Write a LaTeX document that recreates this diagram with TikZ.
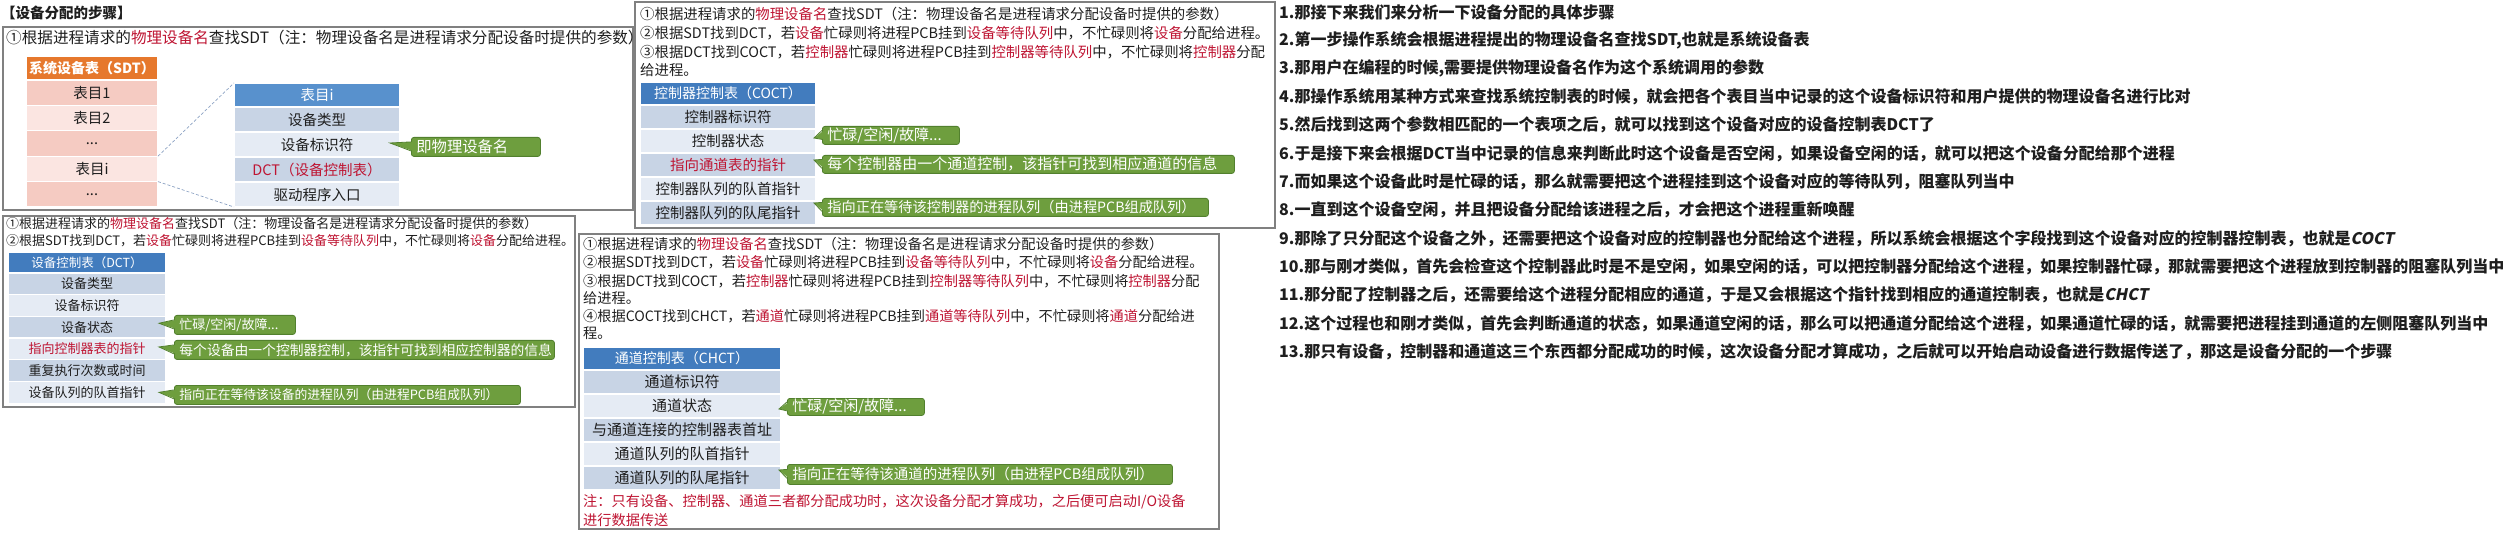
\documentclass[tikz,border=0pt]{standalone}
\usepackage{fontspec}
\setmainfont{Noto Sans CJK SC}
\newfontfamily\slantcjk{Noto Sans CJK SC}[FakeSlant=0.2]
\usepackage{tikz}
\usetikzlibrary{positioning}
\definecolor{framegray}{RGB}{128,128,128}
\definecolor{hdrorange}{RGB}{230,120,45}
\definecolor{rowpinkA}{RGB}{245,203,194}
\definecolor{rowpinkB}{RGB}{251,229,225}
\definecolor{hdrblue}{RGB}{66,124,190}
\definecolor{hdrblueL}{RGB}{88,145,205}
\definecolor{rowblueA}{RGB}{200,212,229}
\definecolor{rowblueB}{RGB}{229,235,244}
\definecolor{tipgreen}{RGB}{110,158,62}
\definecolor{tipedge}{RGB}{82,128,46}
\definecolor{keyred}{RGB}{190,20,50}
\definecolor{txtgray}{RGB}{30,30,30}
\definecolor{linkblue}{RGB}{140,162,195}
\newcommand{\pxsize}[1]{\fontsize{#1pt}{#1pt}\selectfont}
\newcommand{\kw}[1]{\textcolor{keyred}{#1}}
\newcommand{\tipto}[2]{%
  \fill[tipgreen] ([xshift=2pt,yshift=5pt]#1.west) -- (#2) -- ([xshift=2pt,yshift=-4pt]#1.west) -- cycle;
  \draw[tipedge,line width=0.8pt] ([yshift=5pt]#1.west) -- (#2) -- ([yshift=-4pt]#1.west);}

\begin{document}
\begin{tikzpicture}[x=1pt,y=-1pt,
  panel/.style={draw=framegray,line width=1.1pt},
  txt/.style={anchor=west,inner sep=0pt,text=txtgray},
  talk/.style={txt,font=\pxsize{16}\bfseries},
  cell/.style={inner sep=0pt,outer sep=0pt,draw=white,line width=1.2pt,text=txtgray},
  hdr/.style={cell,text=white,anchor=north west},
  pop/.style={anchor=north west,fill=tipgreen,draw=tipedge,line width=0.8pt,rounded corners=2.5pt,text=white,inner xsep=5pt,inner ysep=0pt,align=left},
  link/.style={linkblue,line width=0.7pt,densely dashed},
  sdtcell/.style={cell,minimum width=132,minimum height=25.4,font=\pxsize{14.5}},
  entcell/.style={cell,minimum width=166,minimum height=25,font=\pxsize{14.5}},
  dctcell/.style={cell,minimum width=158,minimum height=21.7,font=\pxsize{13}},
  coctcell/.style={cell,minimum width=176,minimum height=24,font=\pxsize{14.5}},
  chctcell/.style={cell,minimum width=198,minimum height=24,font=\pxsize{15}}]
\useasboundingbox (0,0) rectangle (2513,534);

\node[txt,font=\pxsize{14.5}\bfseries] (title) at (1,13) {【设备分配的步骤】};

% step 1: SDT
\draw[panel] (3,27) rectangle (633,210);
\node[txt,font=\pxsize{15.6}] (s1a) at (6,38) {①根据进程请求的\kw{物理设备名}查找SDT（注：物理设备名是进程请求分配设备时提供的参数）};
\node[hdr,fill=hdrorange,minimum width=132,minimum height=24,font=\pxsize{14}\bfseries] (sdt0) at (26,56) {系统设备表（SDT）};
\node[sdtcell,fill=rowpinkA,below=0pt of sdt0] (sdt1) {表目1};
\node[sdtcell,fill=rowpinkB,below=0pt of sdt1] (sdt2) {表目2};
\node[sdtcell,fill=rowpinkA,below=0pt of sdt2] (sdt3) {...};
\node[sdtcell,fill=rowpinkB,below=0pt of sdt3] (sdt4) {表目i};
\node[sdtcell,fill=rowpinkA,below=0pt of sdt4] (sdt5) {...};
\node[hdr,fill=hdrblueL,minimum width=166,minimum height=24,font=\pxsize{14.5}] (ent0) at (234,83) {表目i};
\node[entcell,fill=rowblueA,below=0pt of ent0] (ent1) {设备类型};
\node[entcell,fill=rowblueB,below=0pt of ent1] (ent2) {设备标识符};
\node[entcell,fill=rowblueA,below=0pt of ent2] (ent3) {\kw{DCT（设备控制表）}};
\node[entcell,fill=rowblueB,below=0pt of ent3] (ent4) {驱动程序入口};
\draw[link] (sdt4.north east) -- (ent0.north west);
\draw[link] (sdt4.south east) -- (ent4.south west);
\node[pop,font=\pxsize{15.3},minimum height=19,text width=119] (pop1) at (411,137) {即物理设备名};
\tipto{pop1}{[xshift=-10pt,yshift=1.5pt]ent2.east}

% step 2: DCT
\draw[panel] (3,216) rectangle (575,407);
\node[txt,font=\pxsize{13}] (s2a) at (6,224) {①根据进程请求的\kw{物理设备名}查找SDT（注：物理设备名是进程请求分配设备时提供的参数）};
\node[txt,font=\pxsize{13}] (s2b) at (6,241) {②根据SDT找到DCT，若\kw{设备}忙碌则将进程PCB挂到\kw{设备等待队列}中，不忙碌则将\kw{设备}分配给进程。};
\node[hdr,fill=hdrblue,minimum width=158,minimum height=21,font=\pxsize{12.5}] (dct0) at (8,252) {设备控制表（DCT）};
\node[dctcell,fill=rowblueA,below=0pt of dct0] (dct1) {设备类型};
\node[dctcell,fill=rowblueB,below=0pt of dct1] (dct2) {设备标识符};
\node[dctcell,fill=rowblueA,below=0pt of dct2] (dct3) {设备状态};
\node[dctcell,fill=rowblueB,below=0pt of dct3] (dct4) {\kw{指向控制器表的指针}};
\node[dctcell,fill=rowblueA,below=0pt of dct4] (dct5) {重复执行次数或时间};
\node[dctcell,fill=rowblueB,below=0pt of dct5] (dct6) {设备队列的队首指针};
\node[pop,font=\pxsize{13},minimum height=19,text width=111] (pop2a) at (174,315) {忙碌/空闲/故障...};
\node[pop,font=\pxsize{13.8},minimum height=19,text width=370] (pop2b) at (174,340) {每个设备由一个控制器控制，该指针可找到相应控制器的信息};
\node[pop,font=\pxsize{12.8},minimum height=19,text width=336] (pop2c) at (174,385) {指向正在等待该设备的进程队列（由进程PCB组成队列）};
\tipto{pop2a}{[xshift=-7pt,yshift=4pt]dct3.east}
\tipto{pop2b}{[xshift=-7pt,yshift=2pt]dct4.east}
\tipto{pop2c}{[xshift=-7pt]dct6.east}

% step 3: COCT
\draw[panel] (635,2) rectangle (1275,228);
\node[txt,font=\pxsize{14.4}] (s3a) at (640,14) {①根据进程请求的\kw{物理设备名}查找SDT（注：物理设备名是进程请求分配设备时提供的参数）};
\node[txt,font=\pxsize{14.4}] (s3b) at (640,33) {②根据SDT找到DCT，若\kw{设备}忙碌则将进程PCB挂到\kw{设备等待队列}中，不忙碌则将\kw{设备}分配给进程。};
\node[txt,font=\pxsize{14.4}] (s3c) at (640,52) {③根据DCT找到COCT，若\kw{控制器}忙碌则将进程PCB挂到\kw{控制器等待队列}中，不忙碌则将\kw{控制器}分配};
\node[txt,font=\pxsize{14.4}] (s3d) at (640,70) {给进程。};
\node[hdr,fill=hdrblue,minimum width=176,minimum height=23,font=\pxsize{14}] (coct0) at (640,82) {控制器控制表（COCT）};
\node[coctcell,fill=rowblueA,below=0pt of coct0] (coct1) {控制器标识符};
\node[coctcell,fill=rowblueB,below=0pt of coct1] (coct2) {控制器状态};
\node[coctcell,fill=rowblueA,below=0pt of coct2] (coct3) {\kw{指向通道表的指针}};
\node[coctcell,fill=rowblueB,below=0pt of coct3] (coct4) {控制器队列的队首指针};
\node[coctcell,fill=rowblueA,below=0pt of coct4] (coct5) {控制器队列的队尾指针};
\node[pop,font=\pxsize{15},minimum height=18,text width=127] (pop3a) at (822,126) {忙碌/空闲/故障...};
\node[pop,font=\pxsize{15},minimum height=18,text width=402] (pop3b) at (822,155) {每个控制器由一个通道控制，该指针可找到相应通道的信息};
\node[pop,font=\pxsize{14.2},minimum height=18,text width=376] (pop3c) at (822,198) {指向正在等待该控制器的进程队列（由进程PCB组成队列）};
\tipto{pop3a}{[xshift=-2pt,yshift=3pt]coct2.east}
\tipto{pop3b}{[xshift=-2pt,yshift=5pt]coct3.east}
\tipto{pop3c}{[xshift=-2pt,yshift=-2pt]coct4.south east}

% step 4: CHCT
\draw[panel] (579,234) rectangle (1219,529);
\node[txt,font=\pxsize{14.2}] (s4a) at (583,244) {①根据进程请求的\kw{物理设备名}查找SDT（注：物理设备名是进程请求分配设备时提供的参数）};
\node[txt,font=\pxsize{14.2}] (s4b) at (583,262) {②根据SDT找到DCT，若\kw{设备}忙碌则将进程PCB挂到\kw{设备等待队列}中，不忙碌则将\kw{设备}分配给进程。};
\node[txt,font=\pxsize{14.2}] (s4c) at (583,281) {③根据DCT找到COCT，若\kw{控制器}忙碌则将进程PCB挂到\kw{控制器等待队列}中，不忙碌则将\kw{控制器}分配};
\node[txt,font=\pxsize{14.2}] (s4d) at (583,298) {给进程。};
\node[txt,font=\pxsize{14.2}] (s4e) at (583,316) {④根据COCT找到CHCT，若\kw{通道}忙碌则将进程PCB挂到\kw{通道等待队列}中，不忙碌则将\kw{通道}分配给进};
\node[txt,font=\pxsize{14.2}] (s4f) at (583,333) {程。};
\node[hdr,fill=hdrblue,minimum width=198,minimum height=23,font=\pxsize{14}] (chct0) at (583,347) {通道控制表（CHCT）};
\node[chctcell,fill=rowblueA,below=0pt of chct0] (chct1) {通道标识符};
\node[chctcell,fill=rowblueB,below=0pt of chct1] (chct2) {通道状态};
\node[chctcell,fill=rowblueA,below=0pt of chct2] (chct3) {与通道连接的控制器表首址};
\node[chctcell,fill=rowblueB,below=0pt of chct3] (chct4) {通道队列的队首指针};
\node[chctcell,fill=rowblueA,below=0pt of chct4] (chct5) {通道队列的队尾指针};
\node[pop,font=\pxsize{15},minimum height=17,text width=127] (pop4a) at (787,398) {忙碌/空闲/故障...};
\node[pop,font=\pxsize{14.5},minimum height=20,text width=375] (pop4b) at (787,464) {指向正在等待该通道的进程队列（由进程PCB组成队列）};
\tipto{pop4a}{[xshift=-2pt,yshift=-3pt]chct2.east}
\tipto{pop4b}{[xshift=-2pt,yshift=-4pt]chct5.north east}
\node[txt,font=\pxsize{14.2},text=keyred] (s4g) at (583,502) {注：只有设备、控制器、通道三者都分配成功时，这次设备分配才算成功，之后便可启动I/O设备};
\node[txt,font=\pxsize{14.2},text=keyred] (s4h) at (583,520) {进行数据传送};

% narration
\node[talk] (r1) at (1279,12) {1.那接下来我们来分析一下设备分配的具体步骤};
\node[talk] (r2) at (1279,40.3) {2.第一步操作系统会根据进程提出的物理设备名查找SDT,也就是系统设备表};
\node[talk] (r3) at (1279,68.6) {3.那用户在编程的时候,需要提供物理设备名作为这个系统调用的参数};
\node[talk] (r4) at (1279,96.9) {4.那操作系统用某种方式来查找系统控制表的时候，就会把各个表目当中记录的这个设备标识符和用户提供的物理设备名进行比对};
\node[talk] (r5) at (1279,125.2) {5.然后找到这两个参数相匹配的一个表项之后，就可以找到这个设备对应的设备控制表DCT了};
\node[talk] (r6) at (1279,153.5) {6.于是接下来会根据DCT当中记录的信息来判断此时这个设备是否空闲，如果设备空闲的话，就可以把这个设备分配给那个进程};
\node[talk] (r7) at (1279,181.8) {7.而如果这个设备此时是忙碌的话，那么就需要把这个进程挂到这个设备对应的等待队列，阻塞队列当中};
\node[talk] (r8) at (1279,210.1) {8.一直到这个设备空闲，并且把设备分配给该进程之后，才会把这个进程重新唤醒};
\node[talk] (r9) at (1279,238.4) {9.那除了只分配这个设备之外，还需要把这个设备对应的控制器也分配给这个进程，所以系统会根据这个字段找到这个设备对应的控制器控制表，也就是{\slantcjk\bfseries COCT}};
\node[talk] (r10) at (1279,266.7) {10.那与刚才类似，首先会检查这个控制器此时是不是空闲，如果空闲的话，可以把控制器分配给这个进程，如果控制器忙碌，那就需要把这个进程放到控制器的阻塞队列当中};
\node[talk] (r11) at (1279,295) {11.那分配了控制器之后，还需要给这个进程分配相应的通道，于是又会根据这个指针找到相应的通道控制表，也就是{\slantcjk\bfseries CHCT}};
\node[talk] (r12) at (1279,323.3) {12.这个过程也和刚才类似，首先会判断通道的状态，如果通道空闲的话，那么可以把通道分配给这个进程，如果通道忙碌的话，就需要把进程挂到通道的左侧阻塞队列当中};
\node[talk] (r13) at (1279,351.6) {13.那只有设备，控制器和通道这三个东西都分配成功的时候，这次设备分配才算成功，之后就可以开始启动设备进行数据传送了，那这是设备分配的一个步骤};
\end{tikzpicture}
\end{document}
